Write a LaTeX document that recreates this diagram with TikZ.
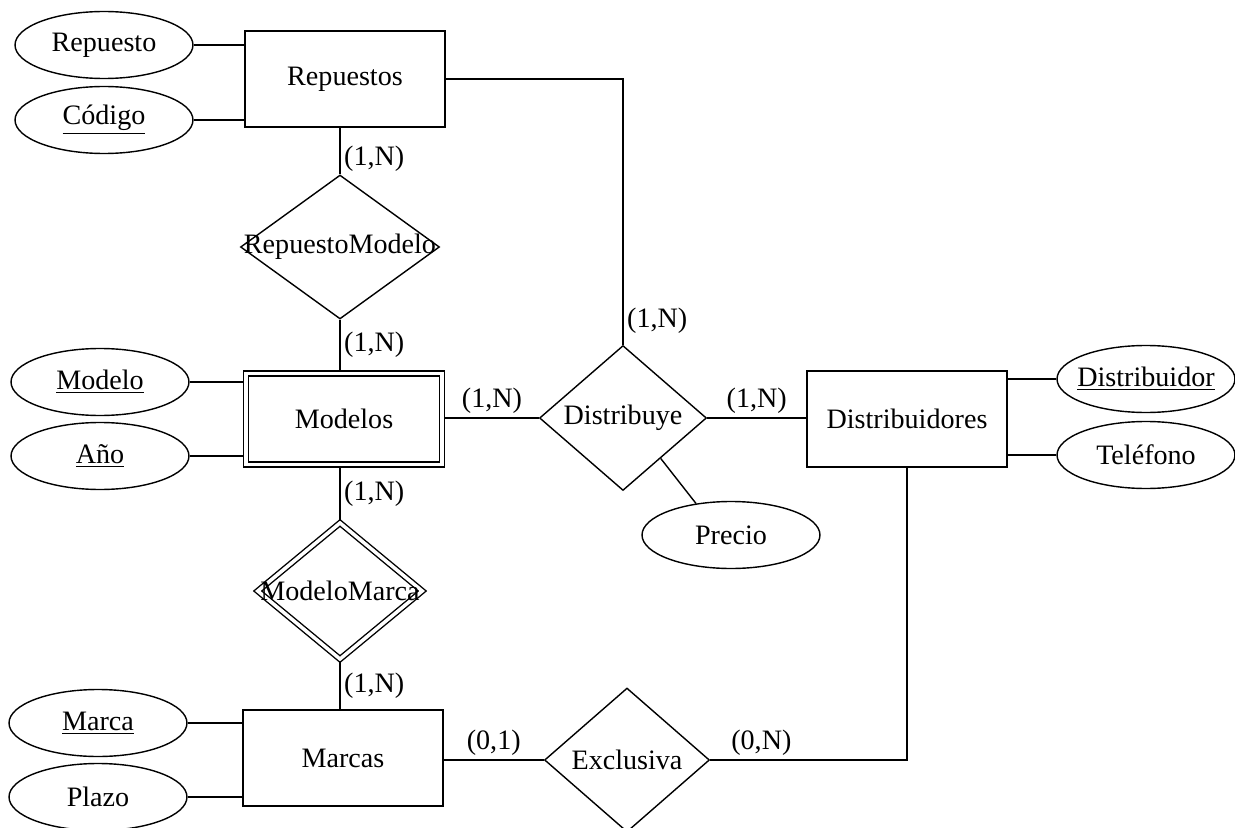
\documentclass[tikz,border=0pt]{standalone}
\usepackage{fontspec}
\setmainfont{Liberation Serif}
\usetikzlibrary{shapes.geometric}

\begin{document}
\begin{tikzpicture}[
    x=0.02cm, y=-0.02cm,
    line width=0.8pt,
    every node/.style={
        font=\fontsize{16}{19}\selectfont
    },
    entity/.style={
        rectangle, draw,
        minimum width=4cm,
        minimum height=1.92cm
    },
    weakentity/.style={
        rectangle, draw,
        double, double distance=2pt,
        outer sep=1.8pt,
        minimum width=3.92cm,
        minimum height=1.82cm
    },
    relation/.style={
        diamond, draw,
        inner sep=0pt,
        minimum width=3.34cm,
        minimum height=2.9cm
    },
    attrib/.style={
        ellipse, draw,
        inner xsep=-4pt, inner ysep=0pt,
        minimum width=3.56cm,
        minimum height=1.34cm
    },
    card/.style={inner sep=2pt}
]
\useasboundingbox (0,0) rectangle (1235,828);
\clip (0,0) rectangle (1235,828);

\node[entity] (repuestos) at (345,79) {Repuestos};
\node[attrib] (repuesto) at (104,45) {Repuesto};
\node[attrib] (codigo) at (104,120) {\underline{Código}};
\node[relation, minimum width=3.98cm, minimum height=2.88cm]
    (repmod) at (340,247) {\makebox[0pt]{RepuestoModelo}};

\node[weakentity] (modelos) at (344,419) {Modelos};
\node[attrib] (modelo) at (100,382) {\underline{Modelo}};
\node[attrib] (anio) at (100,456) {\underline{Año}};
\node[relation, double, double distance=2pt, outer sep=1pt,
    minimum width=3.32cm, minimum height=2.75cm]
    (modmar) at (340,591) {\makebox[0pt]{ModeloMarca}};

\node[entity] (marcas) at (343,758) {Marcas};
\node[attrib] (marca) at (98,723) {\underline{Marca}};
\node[attrib] (plazo) at (98,797) {Plazo};

\node[relation] (distribuye) at (623,418) {Distribuye};
\node[attrib] (precio) at (731,535) {Precio};
\node[entity] (distribuidores) at (907,419) {Distribuidores};
\node[attrib] (distribuidor) at (1146,379) {\underline{Distribuidor}};
\node[attrib] (telefono) at (1146,455) {Teléfono};
\node[relation, minimum width=3.3cm, minimum height=2.88cm]
    (exclusiva) at (627,760) {Exclusiva};

\draw (repuesto.east) -- (repuesto.east -| repuestos.west);
\draw (codigo.east) -- (codigo.east -| repuestos.west);
\draw (repuestos.south -| repmod.north) --
    node[card, pos=0.67, right] {(1,N)} (repmod.north);
\draw (repmod.south) --
    node[card, right] {(1,N)} (repmod.south |- modelos.north);
\draw (modelo.east) -- (modelo.east -| modelos.west);
\draw (anio.east) -- (anio.east -| modelos.west);
\draw (modelos.south -| modmar.north) --
    node[card, right] {(1,N)} (modmar.north);
\draw (modmar.south) --
    node[card, right] {(1,N)} (modmar.south |- marcas.north);
\draw (marca.east) -- (marca.east -| marcas.west);
\draw (plazo.east) -- (plazo.east -| marcas.west);

\draw (modelos.east |- distribuye.west) --
    node[card, above] {(1,N)} (distribuye.west);
\draw (distribuye.east) --
    node[card, above] {(1,N)} (distribuye.east -| distribuidores.west);
\draw (distribuye.north) |-
    node[card, pos=0.045, right] {(1,N)} (repuestos.east);
\draw (distribuye.-47) -- (precio.138);
\draw (distribuidor.west) -- (distribuidor.west -| distribuidores.east);
\draw (telefono.west) -- (telefono.west -| distribuidores.east);

\draw (marcas.east |- exclusiva.west) --
    node[card, above] {(0,1)} (exclusiva.west);
\draw (exclusiva.east) -|
    node[card, pos=0.13, above] {(0,N)} (distribuidores.south);
\end{tikzpicture}
\end{document}
